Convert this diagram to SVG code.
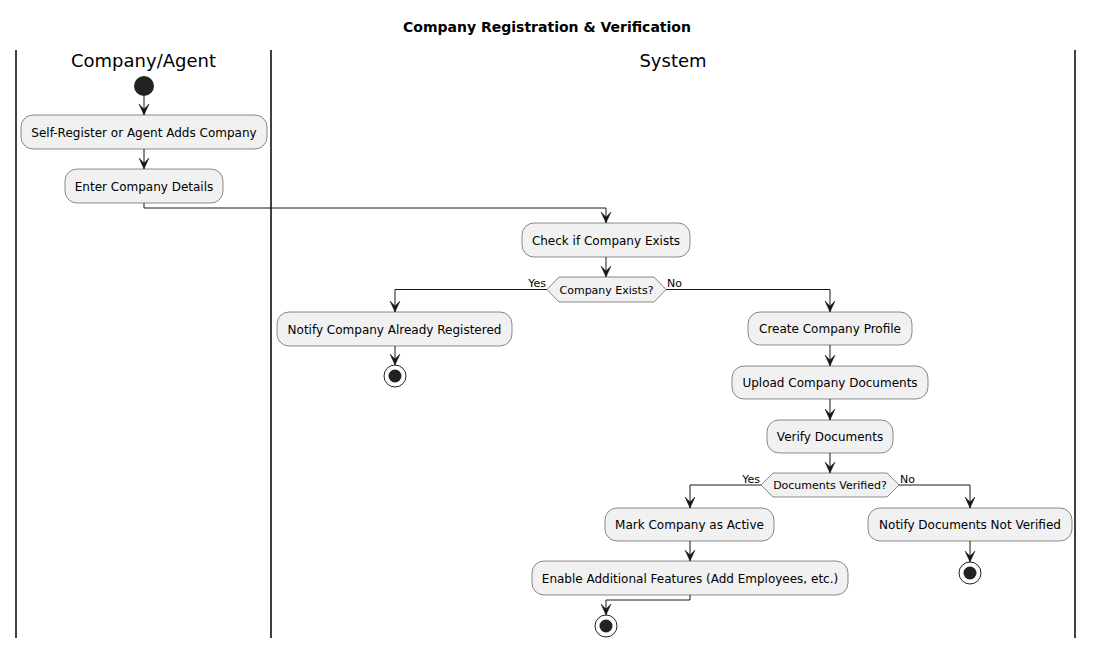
<svg xmlns="http://www.w3.org/2000/svg" width="1094" height="648" viewBox="0 0 1094 648">
<style>
.bg{fill:#FFFFFF}
.lane{stroke:#000000;stroke-width:1.5;fill:none}
.act rect{fill:#F1F1F1;stroke:#181818;stroke-width:0.5}
.act text,.dec text{font-family:"DejaVu Sans",sans-serif;font-size:12px;fill:#000000;text-anchor:middle}
.dec polygon{fill:#F1F1F1;stroke:#181818;stroke-width:0.5}
.dec text{font-size:11px}
.lbl{font-family:"DejaVu Sans",sans-serif;font-size:11px;fill:#000000}
.edge{stroke:#181818;stroke-width:1;fill:none;marker-end:url(#arr)}
.lanetitle{font-family:"DejaVu Sans",sans-serif;font-size:18px;fill:#000000;text-anchor:middle}
.title{font-family:"DejaVu Sans",sans-serif;font-size:14px;font-weight:bold;fill:#000000;text-anchor:middle}
.start{fill:#222222}
.endo{fill:none;stroke:#222222;stroke-width:1}
.endi{fill:#222222}
</style>
<defs>
<marker id="arr" markerUnits="userSpaceOnUse" viewBox="-12 -6 13 12" refX="0" refY="0" markerWidth="13" markerHeight="12" orient="auto">
<path d="M0,0 L-11,-5 L-6,0 L-11,5 Z" fill="#181818" stroke="#181818" stroke-width="0.5"/>
</marker>
</defs>
<rect class="bg" x="0" y="0" width="1094" height="648"/>
<text class="title" x="547" y="32">Company Registration &amp; Verification</text>
<g id="lanes">
<line class="lane" x1="16" y1="50" x2="16" y2="638"/>
<line class="lane" x1="271" y1="50" x2="271" y2="638"/>
<line class="lane" x1="1075" y1="50" x2="1075" y2="638"/>
<text class="lanetitle" x="143.5" y="67">Company/Agent</text>
<text class="lanetitle" x="673" y="67">System</text>
</g>
<g id="connectors">
<path class="edge" d="M144,96 L144,115"/>
<path class="edge" d="M144,149 L144,169"/>
<path class="edge" d="M144,203 L144,208 L606,208 L606,223"/>
<path class="edge" d="M606,257 L606,277"/>
<path class="edge" d="M547,289.5 L395,289.5 L395,312"/>
<path class="edge" d="M395,346 L395,365"/>
<path class="edge" d="M666,289.5 L830,289.5 L830,312"/>
<path class="edge" d="M830,345 L830,366"/>
<path class="edge" d="M830,399 L830,420"/>
<path class="edge" d="M830,453 L830,473"/>
<path class="edge" d="M761,485 L690,485 L690,508"/>
<path class="edge" d="M690,541 L690,561"/>
<path class="edge" d="M690,595 L690,600 L606,600 L606,615"/>
<path class="edge" d="M899,485 L970,485 L970,508"/>
<path class="edge" d="M970,541 L970,562"/>
<text class="lbl" x="546" y="287" text-anchor="end">Yes</text>
<text class="lbl" x="667" y="287">No</text>
<text class="lbl" x="760" y="483" text-anchor="end">Yes</text>
<text class="lbl" x="900" y="483">No</text>
</g>
<g id="start"><circle class="start" cx="144" cy="86" r="10"/></g>
<g id="selfRegister" class="act"><rect x="21" y="115" width="246" height="34" rx="12"/><text x="144" y="136.5">Self-Register or Agent Adds Company</text></g>
<g id="enterDetails" class="act"><rect x="65" y="169" width="158" height="34" rx="12"/><text x="144" y="190.5">Enter Company Details</text></g>
<g id="checkExists" class="act"><rect x="522" y="223" width="168" height="34" rx="12"/><text x="606" y="244.5">Check if Company Exists</text></g>
<g id="decExists" class="dec"><polygon points="547,289.5 559,277 654,277 666,289.5 654,302 559,302"/><text x="606.5" y="293.5">Company Exists?</text></g>
<g id="notifyRegistered" class="act"><rect x="277" y="312" width="235" height="34" rx="12"/><text x="394.5" y="333.5">Notify Company Already Registered</text></g>
<g id="end1"><circle class="endo" cx="395" cy="376" r="11"/><circle class="endi" cx="395" cy="376" r="6.5"/></g>
<g id="createProfile" class="act"><rect x="748" y="312" width="164" height="33" rx="12"/><text x="830" y="333">Create Company Profile</text></g>
<g id="uploadDocs" class="act"><rect x="732" y="366" width="196" height="33" rx="12"/><text x="830" y="387">Upload Company Documents</text></g>
<g id="verifyDocs" class="act"><rect x="767" y="420" width="126" height="33" rx="12"/><text x="830" y="441">Verify Documents</text></g>
<g id="decVerified" class="dec"><polygon points="761,485 773,473 887,473 899,485 887,497 773,497"/><text x="830" y="489">Documents Verified?</text></g>
<g id="markActive" class="act"><rect x="605" y="508" width="169" height="33" rx="12"/><text x="689.5" y="529">Mark Company as Active</text></g>
<g id="enableFeatures" class="act"><rect x="532" y="561" width="316" height="34" rx="12"/><text x="690" y="582.5">Enable Additional Features (Add Employees, etc.)</text></g>
<g id="end2"><circle class="endo" cx="606" cy="626" r="11"/><circle class="endi" cx="606" cy="626" r="6.5"/></g>
<g id="notifyNotVerified" class="act"><rect x="868" y="508" width="204" height="33" rx="12"/><text x="970" y="529">Notify Documents Not Verified</text></g>
<g id="end3"><circle class="endo" cx="970" cy="573" r="11"/><circle class="endi" cx="970" cy="573" r="6.5"/></g>
</svg>
